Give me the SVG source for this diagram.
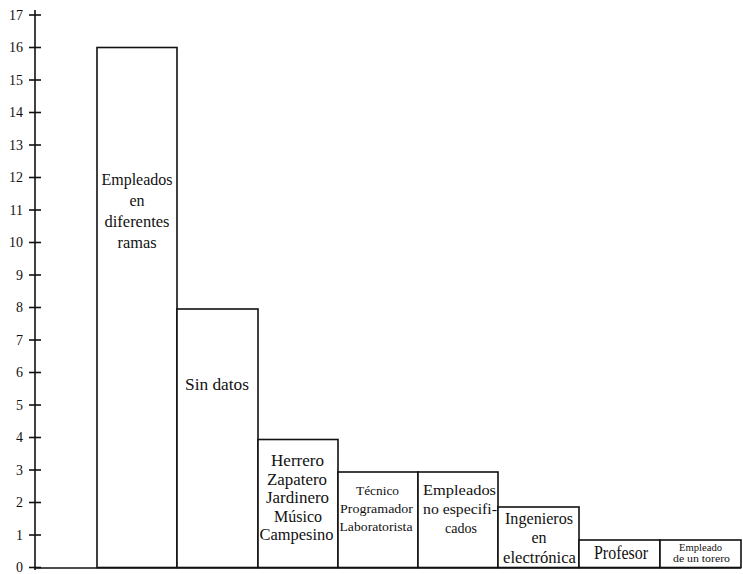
<svg xmlns="http://www.w3.org/2000/svg" width="743" height="574" viewBox="0 0 743 574" font-family="'Liberation Serif','DejaVu Serif','Times New Roman',serif">
<style>
.ax{stroke:#111;stroke-width:1.6;fill:none}
.bar{fill:#fff;stroke:#111;stroke-width:1.6}
text{font-family:'Liberation Serif','DejaVu Serif','Times New Roman',serif;fill:#111}
.lbl{font-size:14px}
.t{text-anchor:middle}
</style>
<rect width="743" height="574" fill="#fff"/>
<g id="axis">
<line class="ax" x1="35" y1="10" x2="35" y2="570"/>
<line class="ax" x1="35" y1="568" x2="741" y2="568"/>
<g class="ax">
<line x1="29" y1="567.5" x2="41" y2="567.5"/><line x1="29" y1="535" x2="41" y2="535"/><line x1="29" y1="502.5" x2="41" y2="502.5"/><line x1="29" y1="470" x2="41" y2="470"/><line x1="29" y1="437.5" x2="41" y2="437.5"/><line x1="29" y1="405" x2="41" y2="405"/><line x1="29" y1="372.5" x2="41" y2="372.5"/><line x1="29" y1="340" x2="41" y2="340"/><line x1="29" y1="307.5" x2="41" y2="307.5"/><line x1="29" y1="275" x2="41" y2="275"/><line x1="29" y1="242.5" x2="41" y2="242.5"/><line x1="29" y1="210" x2="41" y2="210"/><line x1="29" y1="177.5" x2="41" y2="177.5"/><line x1="29" y1="145" x2="41" y2="145"/><line x1="29" y1="112.5" x2="41" y2="112.5"/><line x1="29" y1="80" x2="41" y2="80"/><line x1="29" y1="47.5" x2="41" y2="47.5"/><line x1="29" y1="15" x2="41" y2="15"/>
</g>
<g class="lbl" text-anchor="end">
<text x="23" y="572">0</text><text x="23" y="540">1</text><text x="23" y="507">2</text><text x="23" y="475">3</text><text x="23" y="442">4</text><text x="23" y="410">5</text><text x="23" y="377">6</text><text x="23" y="345">7</text><text x="23" y="312">8</text><text x="23" y="280">9</text><text x="23" y="247">10</text><text x="23" y="215">11</text><text x="23" y="182">12</text><text x="23" y="150">13</text><text x="23" y="117">14</text><text x="23" y="85">15</text><text x="23" y="52">16</text><text x="23" y="20">17</text>
</g>
</g>
<g id="bar1"><rect class="bar" x="97" y="47.5" width="80" height="520"/>
<g class="t" font-size="16" lengthAdjust="spacingAndGlyphs">
<text x="137" y="185" textLength="71" lengthAdjust="spacingAndGlyphs">Empleados</text>
<text x="137" y="206">en</text>
<text x="137" y="227" textLength="65" lengthAdjust="spacingAndGlyphs">diferentes</text>
<text x="137" y="248" textLength="39" lengthAdjust="spacingAndGlyphs">ramas</text></g></g>
<g id="bar2"><rect class="bar" x="177" y="309" width="81" height="258.5"/>
<text class="t" font-size="16" x="217" y="390" textLength="64" lengthAdjust="spacingAndGlyphs">Sin datos</text></g>
<g id="bar3"><rect class="bar" x="258" y="439.5" width="80" height="128"/>
<g class="t" font-size="16">
<text x="297.5" y="466" textLength="53" lengthAdjust="spacingAndGlyphs">Herrero</text>
<text x="297" y="484.5" textLength="60" lengthAdjust="spacingAndGlyphs">Zapatero</text>
<text x="297.5" y="503" textLength="63" lengthAdjust="spacingAndGlyphs">Jardinero</text>
<text x="298" y="521.5" textLength="48" lengthAdjust="spacingAndGlyphs">Músico</text>
<text x="296.5" y="540" textLength="74" lengthAdjust="spacingAndGlyphs">Campesino</text></g></g>
<g id="bar4"><rect class="bar" x="338" y="472" width="80" height="95.5"/>
<g class="t" font-size="13">
<text x="377.5" y="495" textLength="43" lengthAdjust="spacingAndGlyphs">Técnico</text>
<text x="376.5" y="513" textLength="73" lengthAdjust="spacingAndGlyphs">Programador</text>
<text x="376" y="531" textLength="73" lengthAdjust="spacingAndGlyphs">Laboratorista</text></g></g>
<g id="bar5"><rect class="bar" x="418" y="472" width="80" height="95.5"/>
<g class="t" font-size="15">
<text x="459.5" y="495" textLength="73" lengthAdjust="spacingAndGlyphs">Empleados</text>
<text x="460" y="514" textLength="74" lengthAdjust="spacingAndGlyphs">no especifi-</text>
<text x="461" y="533" textLength="32" lengthAdjust="spacingAndGlyphs">cados</text></g></g>
<g id="bar6"><rect class="bar" x="498" y="507" width="81" height="60.5"/>
<g class="t" font-size="16">
<text x="539" y="524" textLength="68" lengthAdjust="spacingAndGlyphs">Ingenieros</text>
<text x="539" y="543">en</text>
<text x="539.5" y="563" textLength="73" lengthAdjust="spacingAndGlyphs">electrónica</text></g></g>
<g id="bar7"><rect class="bar" x="579" y="540" width="81" height="27.5"/>
<text class="t" font-size="18" x="621" y="559" textLength="54" lengthAdjust="spacingAndGlyphs">Profesor</text></g>
<g id="bar8"><rect class="bar" x="660" y="540" width="81" height="27.5"/>
<g class="t" font-size="9.5">
<text x="700.5" y="551" textLength="43" lengthAdjust="spacingAndGlyphs">Empleado</text>
<text x="701.5" y="562" textLength="57" lengthAdjust="spacingAndGlyphs">de un torero</text></g></g>
</svg>
